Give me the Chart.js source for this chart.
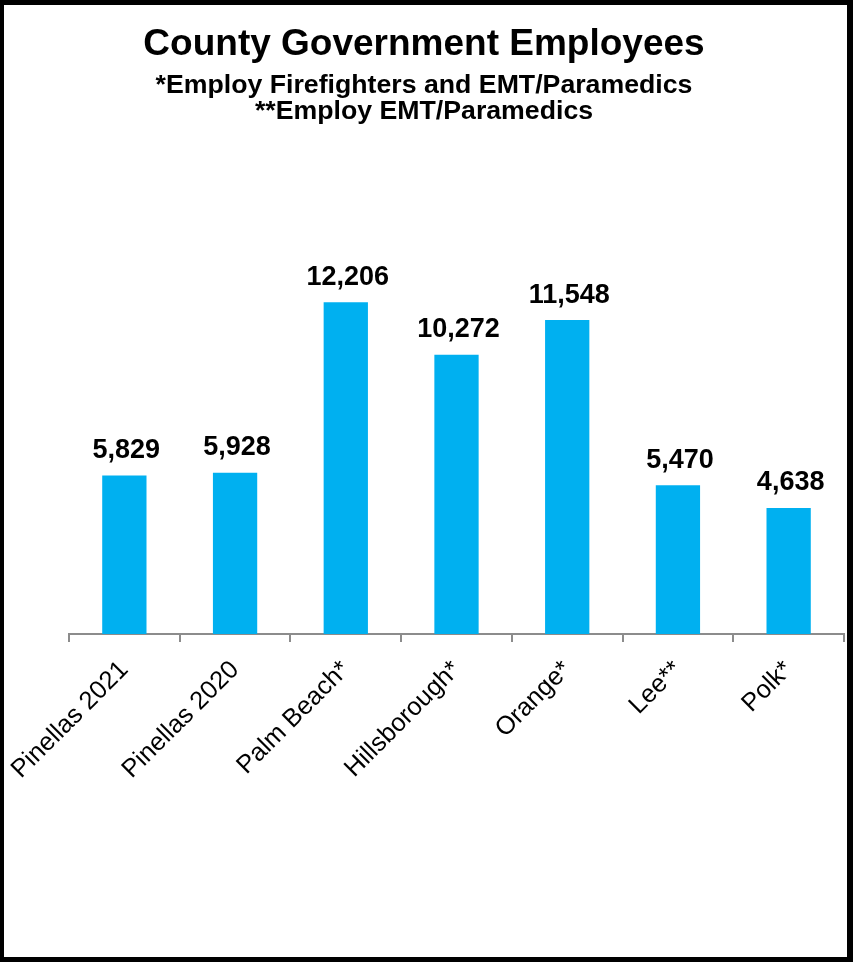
<!DOCTYPE html>
<html>
<head>
<meta charset="utf-8">
<script src="https://cdn.jsdelivr.net/npm/chart.js@4.4.1/dist/chart.umd.min.js"></script>
<style>
  html, body { margin: 0; padding: 0; background: #fff; }
  #frame {
    position: absolute; left: 0; top: 0;
    width: 853px; height: 962px;
    box-sizing: border-box;
    border-style: solid; border-color: #000;
    border-width: 5px 6px 5px 4px;
  }
  #box { position: relative; width: 100%; height: 100%; }
</style>
</head>
<body>
<div id="frame"><div id="box"><canvas id="employeesChart"></canvas></div></div>
<script>
var counties = ["Pinellas 2021", "Pinellas 2020", "Palm Beach*", "Hillsborough*", "Orange*", "Lee**", "Polk*"];
var employees = [5829, 5928, 12206, 10272, 11548, 5470, 4638];
var subtitleLines = ["*Employ Firefighters and EMT/Paramedics", "**Employ EMT/Paramedics"];

var FONT = "'Liberation Sans', Arial, Helvetica, sans-serif";
Chart.defaults.font.family = FONT;
Chart.defaults.color = '#000';

// value above each bar, e.g. "12,206"
var barValues = {
  id: 'barValues',
  afterDatasetsDraw: function(chart) {
    var ctx = chart.ctx;
    var meta = chart.getDatasetMeta(0);
    ctx.save();
    ctx.font = 'bold 27px ' + FONT;
    ctx.fillStyle = '#000';
    ctx.textAlign = 'center';
    ctx.textBaseline = 'alphabetic';
    meta.data.forEach(function(bar, i) {
      ctx.fillText(employees[i].toLocaleString('en-US'), bar.x + 2, bar.y - 17.5);
    });
    ctx.restore();
  }
};

var ctx = document.getElementById("employeesChart");
var employeesChart = new Chart(ctx, {
  type: 'bar',
  data: {
    labels: counties,
    datasets: [
      {
        data: employees,
        backgroundColor: '#00B0F0',
        borderWidth: 0,
        barPercentage: 0.4,
        categoryPercentage: 1.0
      }
    ]
  },
  options: {
    responsive: true,
    maintainAspectRatio: false,
    animation: false,
    layout: {
      padding: { left: 0, right: 3, top: 0, bottom: 0 }
    },
    plugins: {
      legend: { display: false },
      tooltip: { enabled: false },
      title: {
        display: true,
        text: 'County Government Employees',
        color: '#000',
        font: { size: 37, weight: 'bold', lineHeight: 1 },
        padding: { top: 21.3, bottom: 0 }
      },
      subtitle: {
        display: true,
        text: subtitleLines,
        color: '#000',
        font: { size: 26.7, weight: 'bold', lineHeight: 0.99 },
        padding: { top: 9, bottom: 128.3 }
      }
    },
    scales: {
      x: {
        grid: {
          drawOnChartArea: false,
          offset: true,
          tickLength: 8,
          color: '#8c8c8c',
          lineWidth: 2
        },
        border: { color: '#8c8c8c', width: 2 },
        ticks: {
          autoSkip: false,
          minRotation: 45,
          maxRotation: 45,
          padding: 13,
          color: '#000',
          font: { size: 25.5 }
        },
        afterFit: function(scale) {
          scale.height = 323;
          // the slanted labels may hang past the axis ends
          scale.paddingLeft = 0;
          scale.paddingRight = 0;
        }
      },
      y: {
        display: true,
        min: 0,
        max: 14000,
        grid: { display: false },
        border: { display: false },
        ticks: { display: false },
        // empty strip on the left, keeps the bars clear of the frame
        afterFit: function(scale) { scale.width = 65; }
      }
    }
  },
  plugins: [barValues]
});
</script>
</body>
</html>
